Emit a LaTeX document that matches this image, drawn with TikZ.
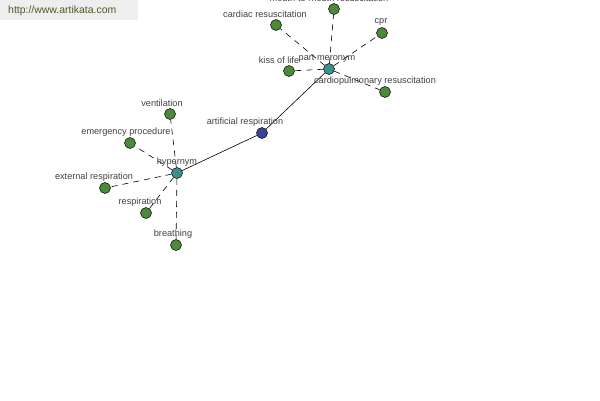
\documentclass[tikz,border=0pt]{standalone}
\usepackage{fontspec}
\setmainfont{Liberation Sans}
\definecolor{leafc}{HTML}{4A8A3A}
\definecolor{hubc}{HTML}{3C9090}
\definecolor{rootc}{HTML}{3A4494}
\definecolor{txtc}{HTML}{404040}
\definecolor{hdrbg}{HTML}{EEEEEE}
\definecolor{hdrtxt}{HTML}{4A5A2A}
\begin{document}
\begin{tikzpicture}[x=1bp,y=-1bp,
  dot/.style={circle,draw=black,line width=0.5pt,inner sep=0pt,minimum size=11bp},
  leaf/.style={dot,fill=leafc},
  hub/.style={dot,fill=hubc},
  root/.style={dot,fill=rootc},
  lbl/.style={text=txtc,font=\fontsize{9.2}{10}\selectfont,inner sep=0pt},
  rel/.style={draw=black,line width=0.6pt,dash pattern=on 6bp off 5bp},
  link/.style={draw=black,line width=0.6pt}]
\useasboundingbox (0,0) rectangle (600,400);
\fill[hdrbg] (0,0) rectangle (138,20);
\node[text=hdrtxt,font=\fontsize{10.5}{11}\selectfont,anchor=west,inner sep=0pt] (hdr) at (8,11) {http://www.artikata.com};
% nodes
\node[hub] (hyp) at (177,173) {};
\node[root] (ar) at (262,133) {};
\node[hub] (pm) at (329,69) {};
\node[leaf] (vent) at (170,114) {};
\node[leaf] (emerg) at (130,143) {};
\node[leaf] (ext) at (105,188) {};
\node[leaf] (resp) at (146,213) {};
\node[leaf] (breath) at (176,245) {};
\node[leaf] (card) at (276,25) {};
\node[leaf] (mtm) at (334,9) {};
\node[leaf] (cpr) at (382,33) {};
\node[leaf] (kiss) at (289,71) {};
\node[leaf] (cpres) at (385,92) {};
% edges
\draw[link] (hyp) -- (ar);
\draw[link] (ar) -- (pm);
\foreach \n in {vent,emerg,ext,resp,breath} \draw[rel] (hyp) -- (\n);
\foreach \n in {card,mtm,cpr,kiss,cpres} \draw[rel] (pm) -- (\n);
% labels
\node[lbl] (lhyp) at (177,162) {hypernym};
\node[lbl] (lar) at (245,122) {artificial respiration};
\node[lbl] (lpm) at (327,58) {part meronym};
\node[lbl] (lvent) at (162,103) {ventilation};
\node[lbl] (lemerg) at (126,132) {emergency procedure};
\node[lbl] (lext) at (94,177) {external respiration};
\node[lbl] (lresp) at (140,202) {respiration};
\node[lbl] (lbreath) at (173,234) {breathing};
\node[lbl] (lcard) at (265,14) {cardiac resuscitation};
\node[lbl] (lmtm) at (329,-2) {mouth-to-mouth resuscitation};
\node[lbl] (lcpr) at (381,22) {cpr};
\node[lbl] (lkiss) at (279,60) {kiss of life};
\node[lbl] (lcpres) at (375,81) {cardiopulmonary resuscitation};
\end{tikzpicture}
\end{document}
